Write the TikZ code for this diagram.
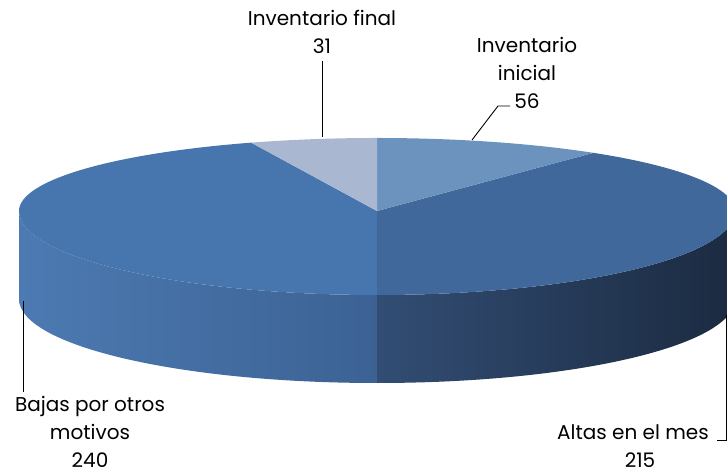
\documentclass[tikz,border=0pt]{standalone}
\usepackage{fontspec}
\setmainfont{Poppins}
\usetikzlibrary{calc}
\definecolor{bajastop}{RGB}{71,118,175}
\definecolor{altastop}{RGB}{64,104,154}
\definecolor{inicialtop}{RGB}{108,147,190}
\definecolor{finaltop}{RGB}{169,184,208}
\definecolor{bajasleft}{RGB}{76,122,178}
\definecolor{bajasright}{RGB}{60,98,148}
\definecolor{altasleft}{RGB}{50,77,116}
\definecolor{altasright}{RGB}{27,42,64}
\tikzstyle{leader}=[black,line width=0.9pt]
\tikzstyle{lbl}=[font=\fontsize{20}{28}\selectfont,align=center,inner sep=0pt]
% pie geometry, in pt: centre, radii of back and front half, thickness
\def\cx{377}
\def\cy{262}
\def\rx{358}
\def\ryb{73}
\def\ryf{84}
\def\dep{88}
\newcommand{\backslice}[3]{% colour, start angle, end angle (back half only)
  \fill[#1] (\cx,\cy) -- ({\cx+\rx*cos(#2)},{\cy+\ryb*sin(#2)})
    arc[start angle=#2,end angle=#3,x radius=\rx,y radius=\ryb] -- cycle;
}
\begin{document}
\begin{tikzpicture}[x=1pt,y=1pt]
  \clip (0,0) rectangle (727,473);
  \pgfmathsetmacro{\total}{56+215+240+31}
  \pgfmathsetmacro{\aini}{90-56/\total*360}   % inicial / altas
  \pgfmathsetmacro{\afin}{90+31/\total*360}   % final / bajas
  % sides
  \shade[left color=bajasleft,right color=bajasright]
    (\cx-\rx,\cy) arc[start angle=180,end angle=270,x radius=\rx,y radius=\ryf]
    -- ++(0,-\dep) arc[start angle=270,end angle=180,x radius=\rx,y radius=\ryf] -- cycle;
  \shade[left color=altasleft,right color=altasright]
    (\cx,\cy-\ryf) arc[start angle=270,end angle=360,x radius=\rx,y radius=\ryf]
    -- ++(0,-\dep) arc[start angle=360,end angle=270,x radius=\rx,y radius=\ryf] -- cycle;
  % top face
  \fill[bajastop] (\cx,\cy) -- ({\cx+\rx*cos(\afin)},{\cy+\ryb*sin(\afin)})
    arc[start angle=\afin,end angle=180,x radius=\rx,y radius=\ryb]
    arc[start angle=180,end angle=270,x radius=\rx,y radius=\ryf] -- cycle;
  \fill[altastop] (\cx,\cy) -- (\cx,\cy-\ryf)
    arc[start angle=270,end angle=360,x radius=\rx,y radius=\ryf]
    arc[start angle=0,end angle=\aini,x radius=\rx,y radius=\ryb] -- cycle;
  \backslice{inicialtop}{\aini}{90}
  \backslice{finaltop}{90}{\afin}
  % labels
  \node[lbl] (final) at (322,441) {Inventario final\\31};
  \node[lbl] (inicial) at (527,400) {Inventario\\inicial\\56};
  \node[lbl] (bajas) at (90,41.5) {Bajas por otros\\motivos\\240};
  \node[lbl] (altas) at (633,27) {Altas en el mes\\\hspace*{14pt}215};
  \coordinate (finaltip) at (322,336);
  \coordinate (inicialA) at (510,367);
  \coordinate (inicialB) at (498,367);
  \coordinate (inicialtip) at (472,333);
  \coordinate (bajastop) at (23,172);
  \coordinate (bajasend) at (23,81);
  \coordinate (altasA) at (717,33);
  \coordinate (altasB) at (726,33);
  \coordinate (altastip) at (726,158);
  \draw[leader] (final.south) ++(0,-7) -- (finaltip);
  \draw[leader] (inicialA) -- (inicialB) -- (inicialtip);
  \draw[leader] (bajastop) -- (bajasend);
  \draw[leader] (altasA) -- (altasB) -- (altastip);
\end{tikzpicture}
\end{document}
